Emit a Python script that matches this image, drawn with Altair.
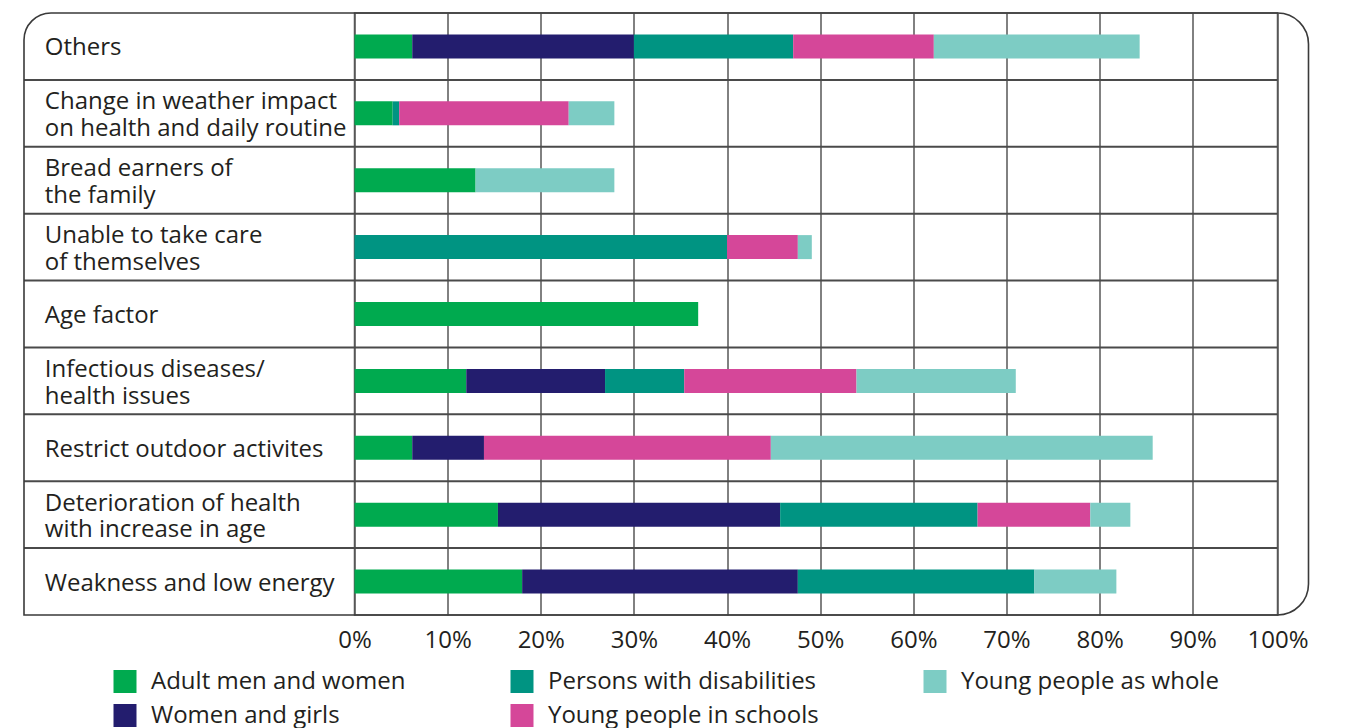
import altair as alt
import pandas as pd

# Rows of the table, top to bottom ("\n" marks a line break in the label)
categories = [
    "Others",
    "Change in weather impact\non health and daily routine",
    "Bread earners of\nthe family",
    "Unable to take care\nof themselves",
    "Age factor",
    "Infectious diseases/\nhealth issues",
    "Restrict outdoor activites",
    "Deterioration of health\nwith increase in age",
    "Weakness and low energy",
]

series = [
    "Adult men and women",
    "Women and girls",
    "Persons with disabilities",
    "Young people in schools",
    "Young people as whole",
]
series_colors = ["#00aa4f", "#231d6e", "#009482", "#d54799", "#7dccc4"]

# Share of responses (%) per row, one list per group
adult_men_and_women = [6.2, 4.1, 13.0, 0, 36.9, 12.0, 6.2, 15.4, 18.0]
women_and_girls = [23.8, 0, 0, 0, 0, 14.9, 7.7, 30.3, 29.6]
persons_with_disabilities = [17.1, 0.7, 0, 40.0, 0, 8.5, 0, 21.2, 25.4]
young_people_in_schools = [15.1, 18.2, 0, 7.6, 0, 18.5, 30.8, 12.1, 0]
young_people_as_whole = [22.1, 4.9, 14.9, 1.5, 0, 17.1, 41.0, 4.3, 8.8]

tick_values = [0, 10, 20, 30, 40, 50, 60, 70, 80, 90]
# the last column of the table is narrower than the others; its edge carries "100%"
axis_end = 99.1

values_by_series = [
    adult_men_and_women,
    women_and_girls,
    persons_with_disabilities,
    young_people_in_schools,
    young_people_as_whole,
]

rows = []
for k, (name, vals) in enumerate(zip(series, values_by_series)):
    for cat, v in zip(categories, vals):
        if v > 0:
            rows.append({"label": cat, "group": name, "value": v, "k": k})
df = pd.DataFrame(rows)

TEXT = "#231f20"
FONT = "Open Sans"
W, H = 923, 602
PAD_LEFT, PAD_TOP = 354.5, 13
LABEL_COL_LEFT = -330.5

y_scale = alt.Scale(domain=categories, paddingInner=0, paddingOuter=0)

bars = alt.Chart(df).mark_bar(size=24).encode(
    y=alt.Y(
        "label:N",
        scale=y_scale,
        title=None,
        axis=alt.Axis(
            domain=False,
            ticks=False,
            tickSize=0,
            grid=False,
            labelAlign="left",
            labelBaseline="middle",
            labelPadding=310.2,
            labelFont=FONT,
            labelFontSize=24,
            labelLineHeight=26.7,
            labelColor=TEXT,
            labelLimit=400,
            # two-line labels are lifted so the block sits centred in its row
            labelOffset={
                "condition": {"test": "indexof(datum.label, '\\n') >= 0", "value": -11},
                "value": 2,
            },
            labelExpr="split(datum.label, '\\n')",
        ),
    ),
    x=alt.X(
        "value:Q",
        stack="zero",
        title=None,
        scale=alt.Scale(domain=[0, axis_end], nice=False),
        axis=alt.Axis(
            values=tick_values + [axis_end],
            labelExpr="datum.value > 95 ? '100%' : datum.value + '%'",
            domain=False,
            ticks=False,
            tickSize=0,
            grid=True,
            gridColor="#575757",
            gridWidth=1.5,
            labelFont=FONT,
            labelFontSize=24,
            labelColor=TEXT,
            labelBaseline="top",
            labelPadding=13,
            labelFlush=False,
            labelOverlap=False,
        ),
    ),
    color=alt.Color(
        "group:N",
        scale=alt.Scale(domain=series, range=series_colors),
        legend=alt.Legend(
            title=None,
            orient="none",
            legendX=113 - PAD_LEFT,
            legendY=669.5 - PAD_TOP,
            columns=3,
            columnPadding=104,
            rowPadding=10,
            padding=0,
            symbolType="square",
            symbolSize=529,
            symbolStrokeWidth=0,
            symbolOpacity=1,
            labelFont=FONT,
            labelFontSize=24,
            labelColor=TEXT,
            labelOffset=14,
            labelLimit=400,
        ),
    ),
    order=alt.Order("k:Q"),
)

# horizontal separators between the rows, running across the label column too
separators = alt.Chart(pd.DataFrame({"label": categories[1:]})).mark_rule(
    color="#4a4a4a", strokeWidth=2
).encode(
    y=alt.Y("label:N", scale=y_scale, bandPosition=0),
    x=alt.value(LABEL_COL_LEFT),
    x2=alt.value(W),
)

# outer frame of the table with rounded corners
frame = alt.Chart(pd.DataFrame({"f": [0]})).mark_rect(
    fillOpacity=0,
    stroke="#3a3a3a",
    strokeWidth=1.6,
    cornerRadiusTopLeft=27,
    cornerRadiusTopRight=31,
    cornerRadiusBottomRight=31,
    cornerRadiusBottomLeft=0,
).encode(
    x=alt.value(LABEL_COL_LEFT),
    x2=alt.value(W + 31),
    y=alt.value(0),
    y2=alt.value(H),
)

chart = (
    alt.layer(bars, separators, frame)
    .properties(
        width=W,
        height=H,
        autosize=alt.AutoSizeParams(type="none"),
        padding={"left": PAD_LEFT, "top": PAD_TOP, "right": 1355 - PAD_LEFT - W, "bottom": 728 - PAD_TOP - H},
        background="white",
    )
    .configure_view(stroke="#575757", strokeWidth=1.5)
)

chart.save("out.html", embed_options={"renderer": "svg", "actions": False})
